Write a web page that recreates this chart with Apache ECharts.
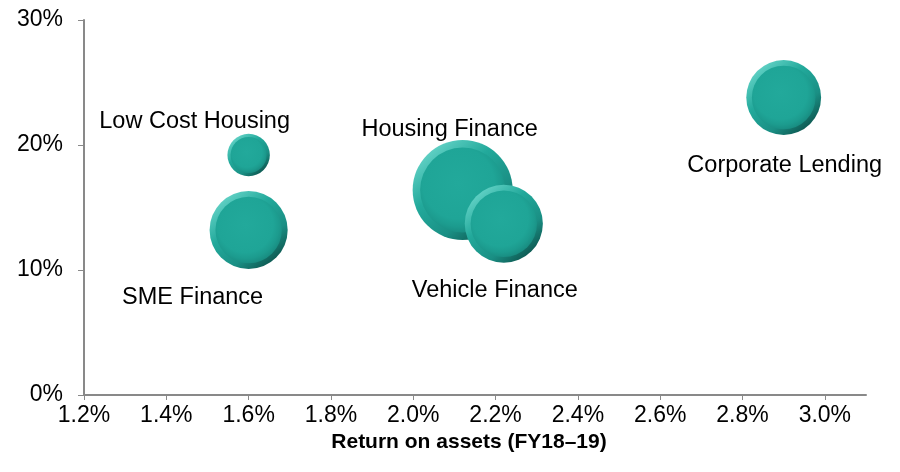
<!DOCTYPE html>
<html>
<head>
<meta charset="utf-8">
<script src="https://cdn.jsdelivr.net/npm/echarts@6/dist/echarts.min.js"></script>
<style>
  html, body { margin: 0; padding: 0; background: #fff; }
  #chart { width: 900px; height: 472px; }
</style>
</head>
<body>
<div id="chart"></div>
<script>
// Business segments: return on assets (x), growth (y), relative book size (bubble)
const segments = ['Low Cost Housing', 'SME Finance', 'Housing Finance', 'Vehicle Finance', 'Corporate Lending'];
const returnOnAssets = [1.6, 1.6, 2.12, 2.22, 2.9];
const growth = [19.2, 13.2, 16.4, 13.7, 23.8];
const bookSize = [18, 61, 100, 61, 56];
const xTicks = [1.2, 1.4, 1.6, 1.8, 2.0, 2.2, 2.4, 2.6, 2.8, 3.0];
const yTicks = [0, 10, 20, 30];

// label placement around each bubble, in pixels
const labelOffsets = [[-54, -33], [-56, 68], [-13, -60], [-9, 67], [1, 68]];

const diameter = v => 10 * Math.sqrt(v[2]);

const axisGrey = '#898989';
const font = 'Liberation Sans, Arial, sans-serif';

// each bubble = bevelled rim + flat face; drawn segment by segment so later ones sit on top
const bubbleSeries = [];
segments.forEach((name, i) => {
  const value = [returnOnAssets[i], growth[i], bookSize[i]];
  bubbleSeries.push({
    type: 'scatter',
    name: name + ' rim',
    data: [{ name: name, value: value }],
    symbolSize: diameter,
    z: 2 + i * 2,
    itemStyle: {
      opacity: 1,
      color: new echarts.graphic.LinearGradient(0.15, 0.1, 0.85, 0.95, [
        { offset: 0, color: '#63d2c6' },
        { offset: 0.35, color: '#22a99b' },
        { offset: 0.7, color: '#1a8f84' },
        { offset: 1, color: '#0c4f49' }
      ])
    },
    label: { show: false }
  });
  bubbleSeries.push({
    type: 'scatter',
    name: name,
    data: [{ name: name, value: value, label: { offset: labelOffsets[i] } }],
    symbolSize: v => diameter(v) * 0.85,
    z: 3 + i * 2,
    itemStyle: {
      opacity: 1,
      color: new echarts.graphic.RadialGradient(0.45, 0.42, 0.6, [
        { offset: 0, color: '#22a99b' },
        { offset: 0.7, color: '#1fa597' },
        { offset: 0.85, color: '#1c9b8e' },
        { offset: 1, color: '#188a7f' }
      ])
    },
    label: {
      show: true,
      position: 'inside',
      formatter: p => p.name,
      fontFamily: font,
      fontSize: 23.5,
      color: '#000'
    }
  });
});

const chart = echarts.init(document.getElementById('chart'), null, { renderer: 'canvas' });
chart.setOption({
  animation: false,
  grid: { left: 84, right: 34, top: 20, bottom: 77, containLabel: false },
  xAxis: {
    type: 'value',
    min: 1.2,
    max: 3.1,
    interval: 0.2,
    name: 'Return on assets (FY18\u201319)',
    nameLocation: 'middle',
    nameGap: 27,
    nameTextStyle: { fontFamily: font, fontSize: 21, fontWeight: 'bold', color: '#000', padding: [0, 12, 0, 0] },
    axisLine: { show: true, lineStyle: { color: axisGrey, width: 2 } },
    axisTick: { show: true, length: 5, lineStyle: { color: axisGrey, width: 1 }, customValues: xTicks },
    axisLabel: {
      customValues: xTicks,
      margin: 9,
      fontFamily: font, fontSize: 23, color: '#000',
      formatter: v => v.toFixed(1) + '%'
    },
    splitLine: { show: false }
  },
  yAxis: {
    type: 'value',
    min: 0,
    max: 30,
    interval: 10,
    axisLine: { show: true, lineStyle: { color: axisGrey, width: 2 } },
    axisTick: { show: true, length: 6, lineStyle: { color: axisGrey, width: 1 }, customValues: yTicks },
    axisLabel: {
      customValues: yTicks,
      margin: 21,
      fontFamily: font, fontSize: 23, color: '#000',
      formatter: v => v + '%'
    },
    splitLine: { show: false }
  },
  series: bubbleSeries
});
</script>
</body>
</html>
